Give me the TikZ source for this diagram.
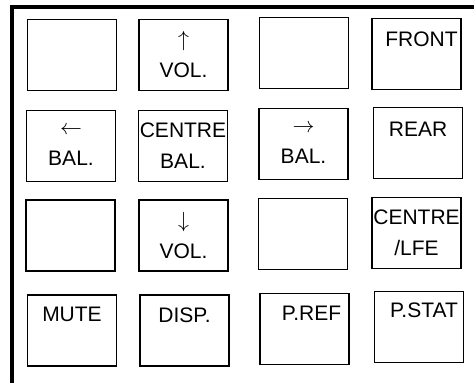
\documentclass[tikz,border=0pt]{standalone}
\usepackage{fontspec}
\setmainfont{Liberation Sans}
\usepackage{tikz}
\usetikzlibrary{positioning}

\begin{document}
\begin{tikzpicture}[
  x=0.5pt, y=-0.5pt,
  font=\fontsize{10.5}{15.5}\selectfont,
  key/.style={draw, line width=0.9pt, minimum width=44.5pt,
      minimum height=35.5pt, inner sep=0pt, align=center},
  keylbl/.style={inner sep=0pt, font=\fontsize{10.5}{12}\selectfont},
  frame/.style={line width=2pt}
]
\useasboundingbox (0,0) rectangle (474,383);
\draw[frame] (474,7.5) -- (11.5,7.5) -- (11.5,383);
% row 1
\node[key] (blank1) at (72,55) {};
\node[key] (volup) at (183.5,55) {$\uparrow$\\VOL.};
\node[key] (blank2) at (304,53) {};
\node[key] (front) at (416.5,54) {};
% row 2
\node[key] (balleft) at (71,146) {$\leftarrow$\\BAL.};
\node[key] (balctr) at (183,146) {CENTRE\\BAL.};
\node[key] (balright) at (303.5,144) {$\rightarrow$\\BAL.};
\node[key] (rear) at (418,143) {};
% row 3
\node[key] (blank3) at (70.5,235.5) {};
\node[key] (voldown) at (183.5,235.5) {$\downarrow$\\VOL.};
\node[key] (blank4) at (303,234) {};
\node[key] (centre) at (416.5,233) {CENTRE\\/LFE};
% row 4
\node[key] (mute) at (72,330.5) {};
\node[key] (disp) at (184.5,330.5) {};
\node[key] (pref) at (304.5,329) {};
\node[key] (pstat) at (419,327) {};
% labels at the top of the keys
\node[keylbl, below=7pt of front.north, xshift=2.5pt] (frontlbl) {FRONT};
\node[keylbl, below=7.5pt of rear.north] (rearlbl) {REAR};
\node[keylbl, below=6.5pt of mute.north] (mutelbl) {MUTE};
\node[keylbl, below=6.5pt of disp.north] (displbl) {DISP.};
\node[keylbl, below=6.5pt of pref.north, xshift=3.5pt] (preflbl) {P.REF};
\node[keylbl, below=6pt of pstat.north, xshift=2.5pt] (pstatlbl) {P.STAT};
\end{tikzpicture}
\end{document}
